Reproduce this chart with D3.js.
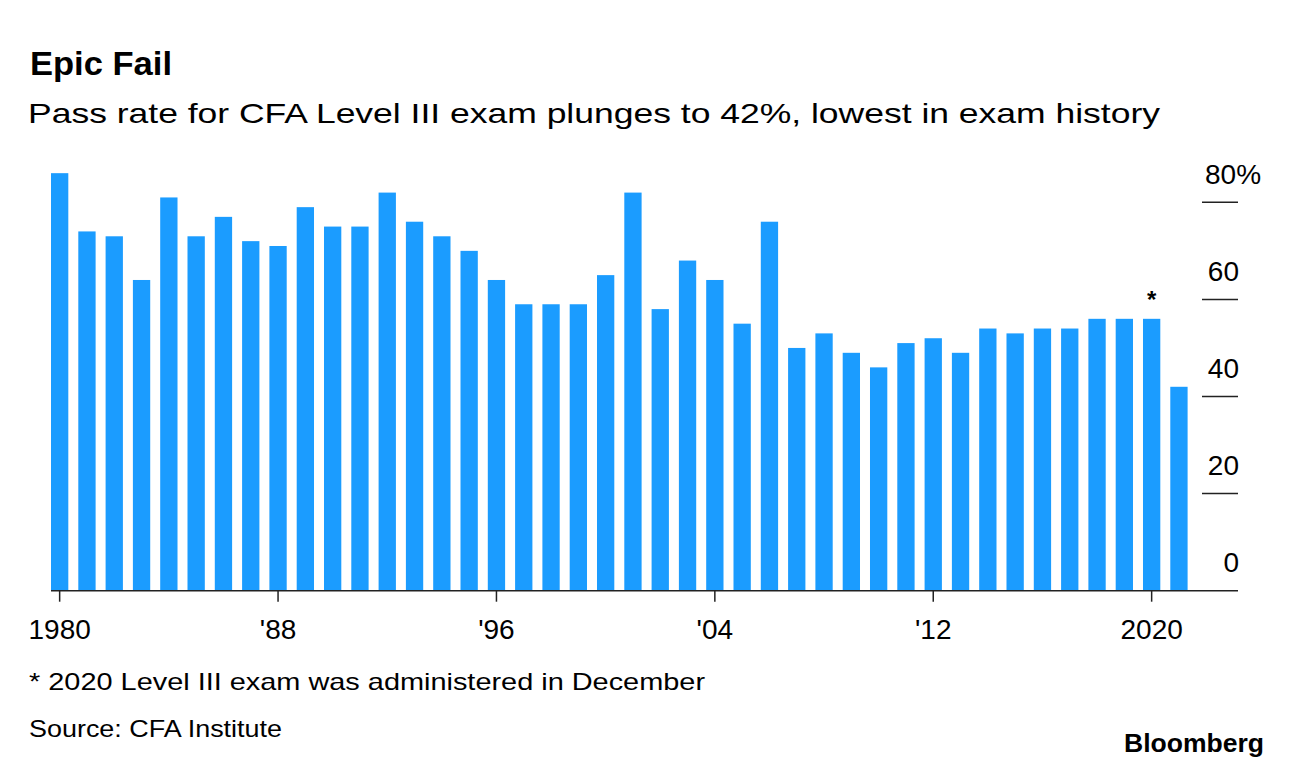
<!DOCTYPE html>
<html>
<head>
<meta charset="utf-8">
<script src="https://cdn.jsdelivr.net/npm/d3@7"></script>
<style>
  body { margin: 0; background: #fff; }
  svg { display: block; font-family: "Liberation Sans", Arial, sans-serif; }
</style>
</head>
<body>
<svg id="chart" width="1292" height="768"></svg>
<script>
// pass rates for CFA Level III, 1980 - 2021
const years = d3.range(1980, 2022);
const passRates = [
  86, 74, 73, 64, 81, 73, 77, 72, 71, 79,
  75, 75, 82, 76, 73, 70, 64, 59, 59, 59,
  65, 82, 58, 68, 64, 55, 76, 50, 53, 49,
  46, 51, 52, 49, 54, 53, 54, 54, 56, 56,
  56, 42
];
const yTicks = [0, 20, 40, 60, 80];
const xTickYears = [1980, 1988, 1996, 2004, 2012, 2020];
const xTickLabels = ["1980", "'88", "'96", "'04", "'12", "2020"];

const data = years.map((y, i) => ({ year: y, value: passRates[i] }));

const svg = d3.select("#chart");

let leftEdge = 51;
let rightEdge = 1238;
let baseY = 590.7;

let xScale = d3.scaleBand()
  .domain(years)
  .range([leftEdge, 1187.6])
  .paddingInner(0.366)
  .paddingOuter(0);

let yScale = d3.scaleLinear().domain([0, 80]).range([baseY, 202.3]);

// the reference type runs wider than Liberation Sans, so long lines get stretched to width
function addText(x, y, size, str, width, bold) {
  let t = svg.append("text")
    .attr("x", x).attr("y", y)
    .attr("font-size", size)
    .attr("font-weight", bold ? "bold" : "normal")
    .text(str);
  if (width) t.attr("textLength", width).attr("lengthAdjust", "spacingAndGlyphs");
  return t;
}

// title block
addText(30, 75, 34, "Epic Fail", 142, true);
addText(28, 123.3, 28, "Pass rate for CFA Level III exam plunges to 42%, lowest in exam history", 1132);

// bars
svg.append("g")
  .selectAll("rect")
  .data(data)
  .enter()
  .append("rect")
  .attr("x", d => xScale(d.year))
  .attr("y", d => yScale(d.value))
  .attr("width", xScale.bandwidth())
  .attr("height", d => baseY - yScale(d.value))
  .attr("fill", "#1b9cff");

// asterisk over 2020
svg.append("text")
  .attr("x", xScale(2020) + xScale.bandwidth() / 2)
  .attr("y", yScale(56) - 11)
  .attr("text-anchor", "middle")
  .attr("font-size", 24).attr("font-weight", "bold")
  .text("*");

// y axis: short lines on the right with labels above
let yAxis = svg.append("g");
yAxis.selectAll("line")
  .data(yTicks.filter(d => d > 0))
  .enter()
  .append("line")
  .attr("x1", 1202).attr("x2", rightEdge)
  .attr("y1", d => yScale(d)).attr("y2", d => yScale(d))
  .attr("stroke", "#222").attr("stroke-width", 1.5);

yAxis.selectAll("text")
  .data(yTicks)
  .enter()
  .append("text")
  .attr("x", d => d === 80 ? 1205 : 1239)
  .attr("y", d => yScale(d) - 18.5)
  .attr("font-size", 28)
  .attr("text-anchor", d => d === 80 ? "start" : "end")
  .text(d => d === 80 ? "80%" : d);

// baseline + x ticks
svg.append("line")
  .attr("x1", leftEdge).attr("x2", rightEdge)
  .attr("y1", baseY).attr("y2", baseY)
  .attr("stroke", "#222").attr("stroke-width", 1.5);

let xAxis = d3.axisBottom(xScale)
  .tickValues(xTickYears)
  .tickSize(11)
  .tickFormat((d, i) => xTickLabels[i]);

svg.append("g")
  .attr("transform", `translate(0,${baseY})`)
  .call(xAxis)
  .call(g => g.select(".domain").remove())
  .call(g => g.selectAll(".tick line").attr("stroke", "#222").attr("stroke-width", 1.5))
  .call(g => g.selectAll(".tick text")
    .attr("font-family", "Liberation Sans, Arial, sans-serif")
    .attr("font-size", 28).attr("fill", "#000")
    .attr("dy", 0).attr("y", 48.6));

// footer
addText(29, 690, 24, "* 2020 Level III exam was administered in December", 676);
addText(29, 736.7, 24, "Source: CFA Institute", 253);
addText(1124, 752, 26, "Bloomberg", 140, true);
</script>
</body>
</html>
